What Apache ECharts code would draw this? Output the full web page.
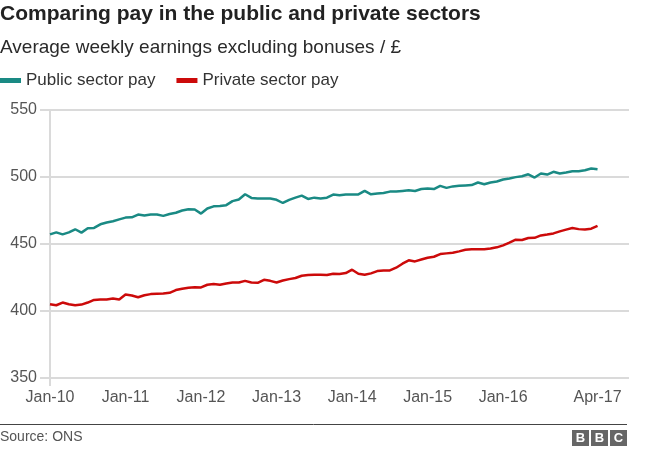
<!DOCTYPE html>
<html>
<head>
<meta charset="utf-8">
<script src="https://cdn.jsdelivr.net/npm/echarts@6/dist/echarts.min.js"></script>
<style>
html,body{margin:0;padding:0;background:#fff;}
#chart{width:660px;height:450px;}
</style>
</head>
<body>
<div id="chart"></div>
<script>
// Monthly data, Jan-10 .. Apr-17
const publicPay = [
  457.2, 458.7, 457.2, 458.7, 461.0, 458.5, 461.7, 462.0, 464.7, 466.0, 467.0, 468.4,
  469.7, 469.9, 472.0, 471.3, 472.0, 472.0, 471.0, 472.4, 473.3, 475.0, 476.0, 475.7,
  472.7, 476.5, 478.1, 478.4, 479.0, 482.0, 483.2, 487.1, 484.4, 484.0, 484.0, 484.0,
  483.0, 480.6, 482.9, 484.6, 486.1, 483.6, 484.6, 484.0, 484.6, 486.9, 486.4, 487.0,
  487.0, 487.0, 489.6, 487.1, 487.6, 488.0, 489.1, 489.1, 489.6, 490.1, 489.6, 491.0,
  491.4, 491.0, 493.4, 491.9, 493.0, 493.4, 493.7, 494.0, 495.9, 494.6, 495.9, 496.6,
  498.1, 498.9, 499.9, 500.6, 502.0, 499.6, 502.6, 501.8, 503.9, 502.6, 503.4, 504.3,
  504.3, 505.0, 506.3, 505.7
];
const privatePay = [
  405.0, 404.3, 406.3, 405.0, 404.3, 404.8, 406.3, 408.3, 408.6, 408.6, 409.3, 408.6,
  412.3, 411.6, 410.3, 411.8, 412.6, 412.8, 413.0, 413.6, 415.6, 416.6, 417.3, 417.8,
  417.6, 419.6, 420.1, 419.6, 420.5, 421.2, 421.3, 422.5, 421.3, 421.0, 423.3, 422.5,
  421.3, 422.8, 423.8, 424.6, 426.3, 426.8, 427.0, 427.0, 426.8, 427.8, 427.6, 428.3,
  430.8, 427.8, 427.0, 428.1, 429.8, 430.3, 430.3, 432.3, 435.3, 437.8, 437.0, 438.4,
  439.7, 440.5, 442.5, 443.0, 443.5, 444.5, 445.7, 446.0, 446.0, 446.0, 446.6, 447.5,
  449.0, 451.0, 453.2, 453.0, 454.5, 454.6, 456.4, 457.1, 457.9, 459.4, 460.7, 461.9,
  461.1, 460.9, 461.4, 463.5
];
const tickLabels = ["Jan-10","Jan-11","Jan-12","Jan-13","Jan-14","Jan-15","Jan-16","Apr-17"];
const monthNames = ["Jan","Feb","Mar","Apr","May","Jun","Jul","Aug","Sep","Oct","Nov","Dec"];

// category labels for each month + empty padding to the right edge of the plot
const categories = [];
for (let i = 0; i < publicPay.length; i++) {
  const y = 10 + Math.floor(i / 12);
  categories.push(monthNames[i % 12] + "-" + y);
}
for (let k = 0; k < 5; k++) categories.push("pad" + k);

const FONT = "Liberation Sans, Arial, Helvetica, sans-serif";
const chart = echarts.init(document.getElementById('chart'), null, {renderer: 'canvas'});
chart.setOption({
  animation: false,
  backgroundColor: '#fff',
  title: [
    {text: 'Comparing pay in the public and private sectors', left: 0, top: 4, padding: 0,
     textStyle: {fontFamily: FONT, fontSize: 21, fontWeight: 'bold', color: '#222'}},
    {text: 'Average weekly earnings excluding bonuses / £', left: 0, top: 38, padding: 0,
     textStyle: {fontFamily: FONT, fontSize: 19, fontWeight: 'normal', color: '#2a2a2a'}}
  ],
  legend: {
    left: 0, top: 72, padding: 0, itemGap: 21,
    itemWidth: 21, itemHeight: 5, icon: 'rect',
    textStyle: {fontFamily: FONT, fontSize: 17, color: '#333'},
    data: ['Public sector pay', 'Private sector pay']
  },
  grid: {left: 50, right: 31, top: 110, bottom: 72, containLabel: false},
  xAxis: {
    type: 'category',
    data: categories,
    boundaryGap: false,
    axisLine: {show: false},
    axisTick: {show: true, interval: function (i) { return i === 0; }, length: 8,
               lineStyle: {color: '#dadada', width: 2}},
    axisLabel: {
      interval: function (idx, val) { return tickLabels.indexOf(val) >= 0; },
      margin: 12,
      fontFamily: FONT, fontSize: 16, color: '#555'
    },
    splitLine: {show: false}
  },
  yAxis: {
    type: 'value',
    min: 350, max: 550, interval: 50,
    axisLine: {show: true, lineStyle: {color: '#dadada', width: 2}},
    axisTick: {show: true, length: 10, lineStyle: {color: '#dadada', width: 2}},
    axisLabel: {margin: 13, fontFamily: FONT, fontSize: 16, color: '#555'},
    splitLine: {show: true, lineStyle: {color: '#dadada', width: 2}}
  },
  series: [
    {name: 'Public sector pay', type: 'line', data: publicPay, showSymbol: false,
     symbol: 'none', lineStyle: {color: '#1a8a84', width: 2.5}, itemStyle: {color: '#1a8a84'}},
    {name: 'Private sector pay', type: 'line', data: privatePay, showSymbol: false,
     symbol: 'none', lineStyle: {color: '#cc0a0a', width: 2.5}, itemStyle: {color: '#cc0a0a'}}
  ],
  graphic: [
    {type: 'line', shape: {x1: 0, y1: 424.5, x2: 627, y2: 424.5}, style: {stroke: '#444', lineWidth: 1}},
    {type: 'text', left: 0, top: 430, style: {text: 'Source: ONS', font: '14px ' + FONT, fill: '#555'}},
    {type: 'group', left: 572, top: 430, children: [
      {type: 'rect', shape: {x: 0, y: 0, width: 17, height: 16}, style: {fill: '#666'}},
      {type: 'rect', shape: {x: 19, y: 0, width: 17, height: 16}, style: {fill: '#666'}},
      {type: 'rect', shape: {x: 38, y: 0, width: 17, height: 16}, style: {fill: '#666'}},
      {type: 'text', x: 8.5, y: 8.5, style: {text: 'B', font: 'bold 13px ' + FONT, fill: '#fff', align: 'center', verticalAlign: 'middle'}},
      {type: 'text', x: 27.5, y: 8.5, style: {text: 'B', font: 'bold 13px ' + FONT, fill: '#fff', align: 'center', verticalAlign: 'middle'}},
      {type: 'text', x: 46.5, y: 8.5, style: {text: 'C', font: 'bold 13px ' + FONT, fill: '#fff', align: 'center', verticalAlign: 'middle'}}
    ]}
  ]
});
</script>
</body>
</html>
